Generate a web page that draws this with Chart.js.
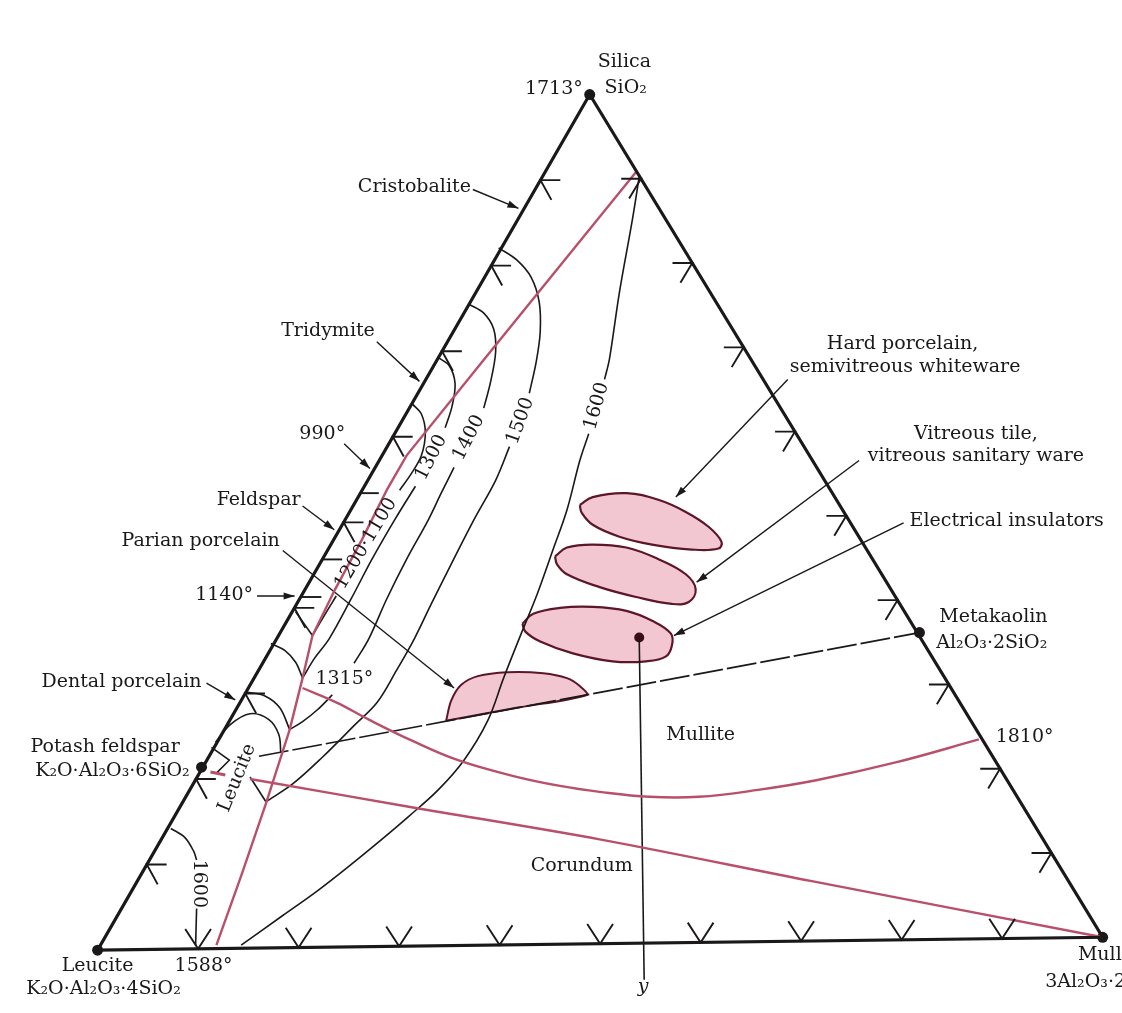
<!DOCTYPE html>
<html>
<head>
<meta charset="utf-8">
<title>K2O – Al2O3 – SiO2 phase diagram</title>
<script src="https://cdn.jsdelivr.net/npm/chart.js@4.4.1/dist/chart.umd.min.js"></script>
<style>
  html, body { margin: 0; padding: 0; background: #fff; }
  #wrap { width: 1122px; height: 1013px; position: relative; }
</style>
</head>
<body>
<div id="wrap"><canvas id="phase"></canvas></div>
<script>
// Diagram units: one unit = one pixel of the 1122 x 1013 plate, y grows downwards.

// Corners and compound points
const SILICA = [590, 90];
const LEUCITE = [93, 955];
const MULLITE = [1108, 942];
const POTASH_FELDSPAR = [198, 770];
const METAKAOLIN = [923, 634];
const Y_POINT = [640, 639];

// 10 % divisions on the three sides
const edgeTicks = [0.1, 0.2, 0.3, 0.4, 0.5, 0.6, 0.7, 0.8, 0.9];
const feldsparEdgeMarks = [[357, 493], [320, 560], [299, 598]];

// Field boundaries (red)
const silicaBoundary = [[637, 168], [560, 263], [480, 362], [405, 455], [385, 490], [360, 540],
  [333, 590], [310, 637], [300, 680], [287, 732], [263, 807], [238, 880], [213, 950]];
const mulliteBoundary = [[300, 690], [335, 705], [367, 722], [410, 743], [457, 763], [513, 779],
  [560, 789], [600, 795], [650, 800], [700, 800], [760, 793], [820, 783], [900, 765], [983, 742]];
const corundumBoundary = [[247, 782], [413, 811], [600, 843], [813, 885], [1108, 942]];
const potashDash = [[207, 775], [222, 778]];

// Isotherms (black), split where the temperature label sits
const iso1600Upper = [[640, 173], [633, 217], [620, 290], [610, 357], [605, 378]];
const iso1600Lower = [[589, 433], [580, 460], [567, 510], [553, 550], [537, 595], [520, 637],
  [503, 680], [487, 723], [463, 763], [437, 793], [407, 820], [380, 843], [347, 870],
  [315, 895], [280, 920], [238, 950]];
const iso1500Upper = [[498, 245], [516, 257], [531, 275], [539, 300], [540, 330], [536, 360], [529, 392]];
const iso1500Lower = [[509, 446], [495, 480], [473, 520], [450, 565], [430, 605], [413, 640],
  [395, 672], [375, 705], [353, 727], [320, 760], [290, 787], [263, 805]];
const iso1500Leucite = [[263, 805], [247, 780]];
const iso1400Upper = [[468, 302], [483, 311], [493, 327], [495, 350], [490, 380], [483, 407]];
const iso1400Middle = [[453, 467], [440, 493], [427, 520], [405, 560], [385, 600], [367, 640], [352, 665]];
const iso1400Lower = [[330, 697], [315, 712], [300, 724], [287, 732]];
const iso1300Upper = [[437, 356], [448, 364], [454, 382], [451, 405], [444, 427]];
const iso1300Lower = [[414, 486], [393, 520], [370, 560], [349, 600], [327, 640], [312, 660], [300, 680]];
const iso1100Upper = [[411, 403], [420, 413], [424, 432], [420, 455], [410, 473], [398, 490]];
const iso1100Lower = [[334, 597], [323, 615], [310, 637]];
const arcLeucite1300 = [[268, 645], [282, 652], [293, 664], [300, 680]];
const arcLeucite1400 = [[243, 694], [262, 698], [277, 710], [287, 732]];
const arcLeuciteOuter = [[212, 745], [227, 727], [247, 716], [266, 722], [276, 737], [278, 755]];
const arcLeucite1600Upper = [[167, 832], [181, 841], [190, 855], [193, 864]];
const arcLeucite1600Lower = [[193, 913], [192, 950]];
const feldsparJoin = [[293, 613], [310, 637]];
const potashWedge = [[208, 750], [226, 763], [213, 776]];

// Feldspar – metakaolin join and the composition y
const feldsparMetakaolinJoin = [[256, 759], [923, 634]];
const yDrop = [[640, 639], [645, 985]];

// Whiteware fields (outlines)
const hardPorcelain = [[580, 505], [593, 497], [627, 493], [660, 500], [687, 512], [710, 527],
  [723, 542], [720, 549], [693, 550], [653, 545], [620, 537], [593, 525], [582, 513], [580, 505]];
const vitreousTile = [[555, 557], [567, 548], [593, 545], [627, 548], [660, 560], [687, 575],
  [697, 590], [690, 603], [673, 605], [637, 598], [600, 588], [567, 575], [557, 565], [555, 557]];
const electricalInsulators = [[522, 625], [533, 615], [560, 609], [593, 608], [627, 612], [653, 622],
  [672, 635], [673, 647], [667, 658], [647, 663], [613, 663], [573, 655], [540, 643], [525, 633], [522, 625]];
const parianPorcelain = [[445, 723], [450, 703], [460, 687], [477, 678], [507, 674], [543, 675],
  [567, 680], [580, 688], [587, 697], [516, 710], [445, 723]];

// Label leaders
const leaders = [
  [[472, 186], [518, 205]],
  [[375, 340], [418, 380]],
  [[342, 443], [368, 468]],
  [[300, 506], [332, 530]],
  [[280, 551], [453, 690]],
  [[254, 597], [292, 597]],
  [[203, 685], [232, 702]],
  [[790, 378], [677, 497]],
  [[862, 460], [698, 583]],
  [[907, 523], [675, 637]]
];

// Text: [text, x, y, align, angle, italic]
const diagramLabels = [
  ['Silica', 625, 57, 'center'],
  ['SiO₂', 605, 83, 'left'],
  ['1713°', 583, 84, 'right'],
  ['Cristobalite', 470, 184, 'right'],
  ['Tridymite', 373, 329, 'right'],
  ['990°', 343, 433, 'right'],
  ['Feldspar', 298, 500, 'right'],
  ['Parian porcelain', 277, 541, 'right'],
  ['1140°', 250, 596, 'right'],
  ['Dental porcelain', 198, 684, 'right'],
  ['Potash feldspar', 176, 750, 'right'],
  ['K₂O·Al₂O₃·6SiO₂', 186, 774, 'right'],
  ['1315°', 313, 681, 'left'],
  ['Leucite', 234, 781, 'center', -68],
  ['1600', 195, 888, 'center', 90],
  ['Leucite', 93, 971, 'center'],
  ['K₂O·Al₂O₃·4SiO₂', 99, 994, 'center'],
  ['1588°', 200, 971, 'center'],
  ['Corundum', 582, 870, 'center'],
  ['Mullite', 702, 738, 'center'],
  ['y', 644, 992, 'center', 0, true],
  ['Mullite', 1083, 960, 'left'],
  ['3Al₂O₃·2SiO₂', 1050, 987, 'left'],
  ['1810°', 1000, 740, 'left'],
  ['Metakaolin', 943, 618, 'left'],
  ['Al₂O₃·2SiO₂', 940, 645, 'left'],
  ['Electrical insulators', 913, 521, 'left'],
  ['Vitreous tile,', 980, 433, 'center'],
  ['vitreous sanitary ware', 980, 456, 'center'],
  ['Hard porcelain,', 906, 342, 'center'],
  ['semivitreous whiteware', 792, 366, 'left'],
  ['1600', 597, 405, 'center', -74],
  ['1500', 520, 420, 'center', -70],
  ['1400', 468, 437, 'center', -63],
  ['1300', 430, 457, 'center', -63],
  ['1200·1100', 364, 544, 'center', -59]
];

const INK = '#1a1819';
const RED = '#b8506a';
const FIELD_EDGE = '#5c1627';
const FIELD_FILL = '#f3c7d1';
const FONT = '"DejaVu Serif", "Liberation Serif", serif';

function pts(list) {
  return list.map(([x, y]) => ({ x, y }));
}

function line(list, opts) {
  return Object.assign({
    data: pts(list),
    showLine: true,
    pointRadius: 0,
    pointHoverRadius: 0,
    borderColor: INK,
    borderWidth: 1.6,
    tension: 0.35,
    fill: false,
    clip: false
  }, opts || {});
}

function along(a, b, f) {
  return [a[0] + f * (b[0] - a[0]), a[1] + f * (b[1] - a[1])];
}

// Arrow-like marks on each side, from the tick fractions
const tickSets = [];
edgeTicks.forEach(f => {
  const l = along(SILICA, LEUCITE, f);
  tickSets.push([[l[0] + 20, l[1]], l, [l[0] + 11, l[1] + 20]]);
  const r = along(SILICA, MULLITE, f);
  tickSets.push([[r[0] - 20, r[1]], r, [r[0] - 12, r[1] + 20]]);
  const b = along(LEUCITE, MULLITE, f);
  tickSets.push([[b[0] - 13, b[1] - 20], b, [b[0] + 13, b[1] - 20]]);
});
feldsparEdgeMarks.forEach(([x, y]) => tickSets.push([[x, y], [x + 20, y]]));

const datasets = [];

// outline of the triangle
datasets.push(line([SILICA, MULLITE, LEUCITE, SILICA], { borderWidth: 3.2, tension: 0 }));
tickSets.forEach(t => datasets.push(line(t, { borderWidth: 1.9, tension: 0 })));

// red field boundaries
datasets.push(line(silicaBoundary, { borderColor: RED, borderWidth: 2.4, tension: 0 }));
datasets.push(line(mulliteBoundary, { borderColor: RED, borderWidth: 2.4, tension: 0.4 }));
datasets.push(line(corundumBoundary, { borderColor: RED, borderWidth: 2.4, tension: 0.3 }));
datasets.push(line(potashDash, { borderColor: RED, borderWidth: 3, tension: 0 }));

// isotherms
[iso1600Upper, iso1600Lower, iso1500Upper, iso1500Lower, iso1400Upper, iso1400Middle,
 iso1400Lower, iso1300Upper, iso1300Lower, iso1100Upper, iso1100Lower,
 arcLeucite1300, arcLeucite1400, arcLeuciteOuter, arcLeucite1600Upper].forEach(c =>
  datasets.push(line(c)));
[iso1500Leucite, arcLeucite1600Lower, feldsparJoin, potashWedge].forEach(c =>
  datasets.push(line(c, { tension: 0 })));

// join and composition y
datasets.push(line(feldsparMetakaolinJoin, { borderWidth: 1.7, tension: 0, borderDash: [30, 4] }));
datasets.push(line(yDrop, { borderWidth: 1.6, tension: 0 }));

// leaders (arrowheads added by plugin)
leaders.forEach(l => datasets.push(line(l, { borderWidth: 1.4, tension: 0, arrow: true })));

// whiteware fields, drawn underneath
[hardPorcelain, vitreousTile, electricalInsulators].forEach(f =>
  datasets.push(line(f, { borderColor: FIELD_EDGE, backgroundColor: FIELD_FILL, borderWidth: 2.2,
    tension: 0.4, fill: 'shape', order: 5 })));
datasets.push(line(parianPorcelain, { borderColor: FIELD_EDGE, backgroundColor: FIELD_FILL,
  borderWidth: 2, tension: 0.3, fill: 'shape', order: 5 }));

// compound points
datasets.push({
  data: pts([SILICA, LEUCITE, MULLITE, POTASH_FELDSPAR, METAKAOLIN]),
  showLine: false, pointRadius: 5.5, pointHoverRadius: 5.5,
  pointBackgroundColor: INK, pointBorderWidth: 0, clip: false
});
datasets.push({
  data: pts([Y_POINT]),
  showLine: false, pointRadius: 5, pointHoverRadius: 5,
  pointBackgroundColor: '#3a0d17', pointBorderWidth: 0, clip: false
});

const arrowPlugin = {
  id: 'leaderArrows',
  afterDatasetsDraw(chart) {
    const ctx = chart.ctx;
    ctx.save();
    ctx.fillStyle = INK;
    chart.data.datasets.forEach((ds, i) => {
      if (!ds.arrow) return;
      const el = chart.getDatasetMeta(i).data;
      const a = el[el.length - 2], b = el[el.length - 1];
      const ang = Math.atan2(b.y - a.y, b.x - a.x);
      const len = 11, half = 3.6;
      const bx = b.x - len * Math.cos(ang), by = b.y - len * Math.sin(ang);
      ctx.beginPath();
      ctx.moveTo(b.x, b.y);
      ctx.lineTo(bx + half * Math.sin(ang), by - half * Math.cos(ang));
      ctx.lineTo(bx - half * Math.sin(ang), by + half * Math.cos(ang));
      ctx.closePath();
      ctx.fill();
    });
    ctx.restore();
  }
};

const textPlugin = {
  id: 'diagramText',
  afterDatasetsDraw(chart) {
    const { ctx, scales } = chart;
    ctx.save();
    ctx.fillStyle = INK;
    ctx.textBaseline = 'middle';
    diagramLabels.forEach(([text, x, y, align, angle, italic]) => {
      ctx.save();
      ctx.translate(scales.x.getPixelForValue(x), scales.y.getPixelForValue(y));
      ctx.rotate((angle || 0) * Math.PI / 180);
      ctx.font = (italic ? 'italic ' : '') + '19px ' + FONT;
      ctx.textAlign = align;
      ctx.fillText(text, 0, 0);
      ctx.restore();
    });
    ctx.restore();
  }
};

new Chart(document.getElementById('phase'), {
  type: 'scatter',
  data: { datasets },
  plugins: [arrowPlugin, textPlugin],
  options: {
    responsive: true,
    maintainAspectRatio: false,
    animation: false,
    events: [],
    layout: { padding: 0 },
    plugins: { legend: { display: false }, tooltip: { enabled: false } },
    scales: {
      x: { type: 'linear', min: 0, max: 1122, display: false },
      y: { type: 'linear', min: 0, max: 1013, reverse: true, display: false }
    }
  }
});
</script>
</body>
</html>
